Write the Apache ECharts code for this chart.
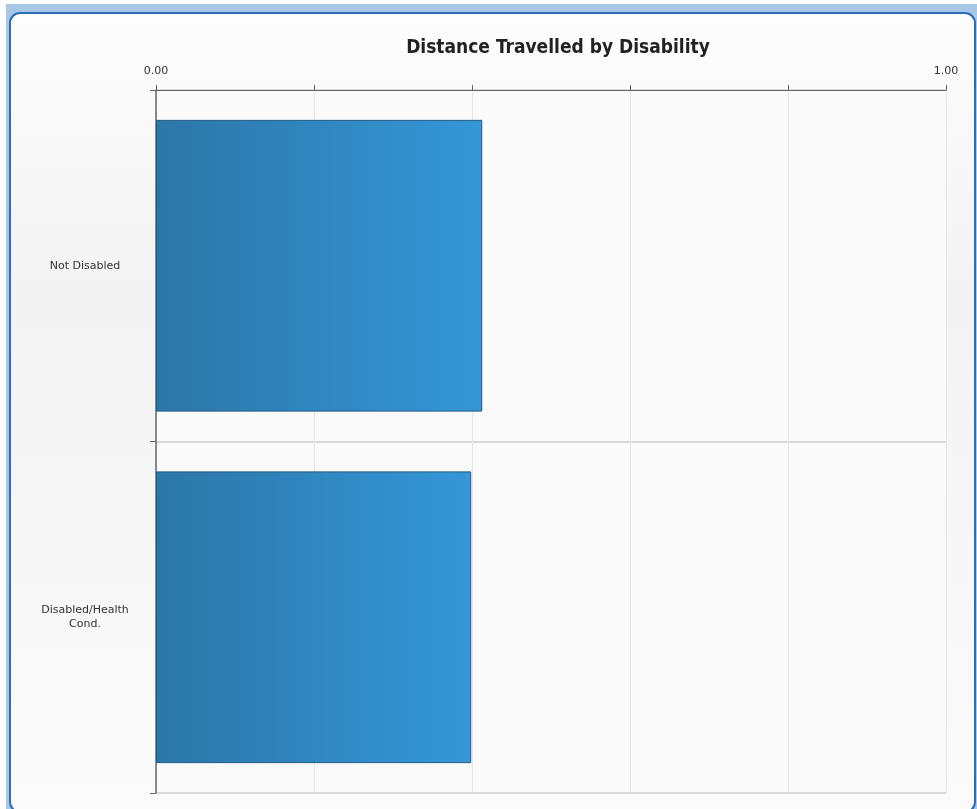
<!DOCTYPE html>
<html>
<head>
<meta charset="utf-8">
<script src="https://cdn.jsdelivr.net/npm/echarts@6/dist/echarts.min.js"></script>
<style>html,body{margin:0;padding:0;background:#fff;}#c{width:977px;height:809px;}</style>
</head>
<body>
<div id="c"></div>
<script>
const title = 'Distance Travelled by Disability';
const categories = ['Not Disabled', 'Disabled/Health\nCond.'];
const values = [0.413, 0.399];
const axisMin = 0, axisMax = 1, axisStep = 0.2;
const shownTicks = [0, 1];

const chart = echarts.init(document.getElementById('c'), null, {renderer: 'canvas'});
chart.setOption({
  backgroundColor: '#ffffff',
  animation: false,
  graphic: [
    {type: 'rect', z: -10, silent: true, shape: {x: 6, y: 4, width: 980, height: 820}, style: {fill: '#a8c7e6'}},
    {type: 'rect', z: -9, silent: true, shape: {x: 10, y: 13, width: 965, height: 799, r: 10},
      style: {fill: {type: 'linear', x: 0, y: 0, x2: 0, y2: 1, colorStops: [
        {offset: 0, color: '#fdfdfd'}, {offset: 0.35, color: '#f3f3f3'}, {offset: 1, color: '#fbfbfb'}]},
        stroke: '#2c6db6', lineWidth: 2}}
  ],
  title: {
    text: title, left: 553, top: 34, textAlign: 'center',
    textStyle: {fontFamily: 'DejaVu Sans Condensed', fontWeight: 'bold', fontSize: 19, color: '#222'}
  },
  grid: {left: 156, right: 31, top: 90, bottom: 16, show: true, backgroundColor: '#fafafa', borderWidth: 0, containLabel: false},
  xAxis: {
    type: 'value', position: 'top', min: axisMin, max: axisMax, interval: axisStep,
    axisLine: {show: true, lineStyle: {color: '#666', width: 1}},
    axisTick: {show: true, length: 5, lineStyle: {color: '#666'}},
    axisLabel: {
      margin: 13, color: '#333', fontFamily: 'DejaVu Sans', fontSize: 11,
      formatter: v => shownTicks.some(t => Math.abs(t - v) < 1e-9) ? v.toFixed(2) : ''
    },
    splitLine: {show: true, lineStyle: {color: '#e6e6e6', width: 1}}
  },
  yAxis: {
    type: 'category', inverse: true, data: categories,
    axisLine: {show: true, lineStyle: {color: '#666', width: 1.5}},
    axisTick: {show: true, length: 6, alignWithLabel: false, lineStyle: {color: '#666'}},
    axisLabel: {margin: 71, align: 'center', color: '#333', fontFamily: 'DejaVu Sans', fontSize: 11, lineHeight: 14},
    splitLine: {show: true, lineStyle: {color: '#d9d9d9', width: 2}}
  },
  series: [{
    type: 'bar', data: values, barCategoryGap: '17%',
    itemStyle: {
      color: {type: 'linear', x: 0, y: 0, x2: 1, y2: 0, colorStops: [
        {offset: 0, color: '#2c76a7'}, {offset: 1, color: '#3597d8'}]},
      borderColor: '#1f5a86', borderWidth: 1
    }
  }]
});
</script>
</body>
</html>
